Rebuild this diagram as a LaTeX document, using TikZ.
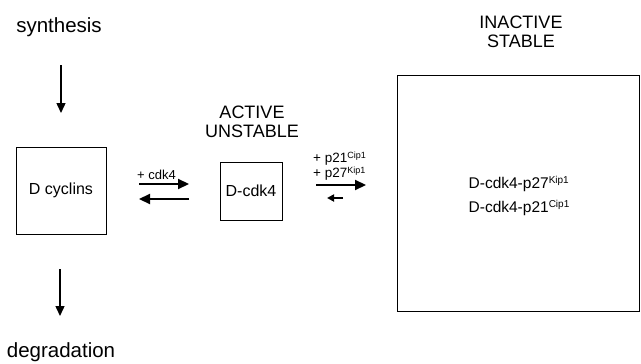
\documentclass[tikz,border=0pt]{standalone}
\usepackage{fontspec}
\setmainfont{Liberation Sans}
\usetikzlibrary{arrows.meta}
% small raised text for protein superscripts, sized to the surrounding text
\newcommand\suptag[2][9.5]{\raisebox{0.3em}{\fontsize{#1}{#1}\selectfont #2}}
\tikzset{
  lbl/.style={inner sep=0pt, anchor=center, font=\fontsize{#1}{#1}\selectfont},
  lbl/.default=13,
  pool/.style={draw, line width=0.9pt, inner sep=0pt, anchor=center},
  flow/.style={line width=1.4pt, -{Triangle[length=10pt, width=9pt]}},
  fwd/.style={line width=2.2pt, -{Triangle[length=11pt, width=10pt]}},
  bwd/.style={line width=2.2pt, -{Triangle[length=11pt, width=10pt]}},
  shortbwd/.style={line width=1.8pt, -{Triangle[length=7pt, width=7pt]}},
}
\begin{document}
\begin{tikzpicture}[x=1pt, y=-1pt]
\useasboundingbox (0,0) rectangle (641,364);

% titles
\node[lbl=20.5] (synth) at (59,27) {synthesis};
\node[lbl=20.5] (degr) at (61,352) {degradation};
\node[lbl=18, align=center] (active) at (252,122) {ACTIVE\\[1pt]UNSTABLE};
\node[lbl=18, align=center] (inactive) at (521,32) {INACTIVE\\[1pt]STABLE};

% pools
\node[pool, minimum width=90pt, minimum height=87pt] (dcyc) at (61,190.5)
  {\fontsize{16}{16}\selectfont D cyclins};
\node[pool, minimum width=62pt, minimum height=58pt] (dcdk) at (251,191)
  {\fontsize{16}{16}\selectfont D-cdk4};
\node[pool, minimum width=242pt, minimum height=236pt] (inact) at (518,193) {};
\node[lbl=15.5, align=left] (cplx) at (519,196)
  {D-cdk4-p27\suptag[10]{Kip1}\\[8pt]D-cdk4-p21\suptag[10]{Cip1}};

% synthesis and degradation
\coordinate (s1) at (61,65);
\coordinate (s2) at (61,113);
\coordinate (g1) at (60,269);
\coordinate (g2) at (60,316);
\draw[flow] (s1) -- (s2);
\draw[flow] (g1) -- (g2);

% D cyclins <-> D-cdk4
\coordinate (a1) at (139,184);
\coordinate (a2) at (189,184);
\coordinate (b1) at (189,199);
\coordinate (b2) at (139,199);
\draw[fwd] (a1) -- (a2);
\draw[bwd] (b1) -- (b2);
\node[lbl=13, anchor=south west] (pluscdk) at (137,180) {+ cdk4};

% D-cdk4 <-> inhibitor complexes
\coordinate (c1) at (316,185);
\coordinate (c2) at (366,185);
\coordinate (d1) at (343,198);
\coordinate (d2) at (327,198);
\draw[fwd] (c1) -- (c2);
\draw[shortbwd] (d1) -- (d2);
\node[lbl=13.5, anchor=west] (p21) at (313,159) {+ p21\suptag[9]{Cip1}};
\node[lbl=13.5, anchor=west] (p27) at (313,174) {+ p27\suptag[9]{Kip1}};
\end{tikzpicture}
\end{document}
